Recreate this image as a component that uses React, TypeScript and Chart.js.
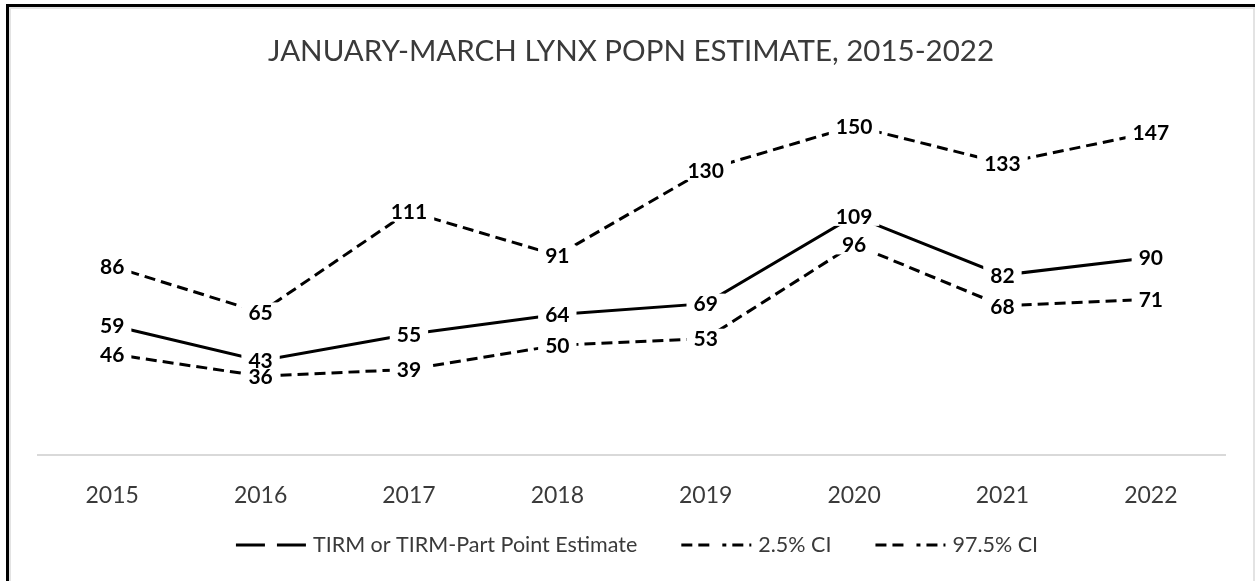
import React, { useEffect, useRef } from "react";
import { Chart, registerables } from "chart.js";

Chart.register(...registerables);

const years = ["2015", "2016", "2017", "2018", "2019", "2020", "2021", "2022"];
const pointEstimate = [59, 43, 55, 64, 69, 109, 82, 90];
const lowerCI = [46, 36, 39, 50, 53, 96, 68, 71];
const upperCI = [86, 65, 111, 91, 130, 150, 133, 147];
const seriesNames = ["TIRM or TIRM-Part Point Estimate", "2.5% CI", "97.5% CI"];
const titleText = "JANUARY-MARCH LYNX POPN ESTIMATE, 2015-2022";
const yMin = 0;
const yMax = 160;

const FONT = "Lato, 'Open Sans', sans-serif";
const DASH = [11, 6];

const labelPlugin = {
  id: "boxLabels",
  afterDatasetsDraw(chart: any) {
    const ctx = chart.ctx;
    ctx.save();
    ctx.font = `bold 21px ${FONT}`;
    const items: any[] = [];
    chart.data.datasets.forEach((ds: any, di: number) => {
      const meta = chart.getDatasetMeta(di);
      meta.data.forEach((pt: any, i: number) => {
        const text = String(ds.data[i]);
        const w = ctx.measureText(text).width;
        items.push({ x: pt.x, y: pt.y, text, w });
      });
    });
    ctx.fillStyle = "#ffffff";
    items.forEach((it) => ctx.fillRect(it.x - it.w / 2 - 7, it.y - 10, it.w + 14, 20));
    ctx.fillStyle = "#000000";
    ctx.textAlign = "center";
    ctx.textBaseline = "middle";
    items.forEach((it) => ctx.fillText(it.text, it.x, it.y + 1));
    ctx.restore();
  },
};

const titleLegendPlugin = {
  id: "titleLegend",
  afterDraw(chart: any) {
    const ctx = chart.ctx;
    ctx.save();
    // title
    ctx.font = `29.5px ${FONT}`;
    ctx.fillStyle = "#3a3a3a";
    ctx.textAlign = "center";
    ctx.textBaseline = "middle";
    ctx.fillText(titleText, 631, 51);

    // legend
    ctx.font = `21.5px ${FONT}`;
    const sampleW = 70;
    const textGap = 7;
    const itemGap = 44;
    const widths = seriesNames.map((n) => ctx.measureText(n).width);
    const total = widths.reduce((a, w) => a + sampleW + textGap + w, 0) + itemGap * (seriesNames.length - 1);
    let x = 637 - total / 2;
    const y = 545;
    chart.data.datasets.forEach((ds: any, i: number) => {
      ctx.save();
      ctx.strokeStyle = "#000";
      ctx.lineWidth = 3;
      ctx.setLineDash(ds.borderDash || []);
      ctx.beginPath();
      ctx.moveTo(x, y);
      ctx.lineTo(x + sampleW, y);
      ctx.stroke();
      ctx.fillStyle = "#fff";
      ctx.fillRect(x + sampleW / 2 - 6, y - 4, 12, 8);
      ctx.restore();
      ctx.fillStyle = "#3a3a3a";
      ctx.textAlign = "left";
      ctx.textBaseline = "middle";
      ctx.fillText(seriesNames[i], x + sampleW + textGap, y);
      x += sampleW + textGap + widths[i] + itemGap;
    });
    ctx.restore();
  },
};

export default function App() {
  const ref = useRef<HTMLCanvasElement | null>(null);
  useEffect(() => {
    if (!ref.current) return;
    const chart = new Chart(ref.current, {
      type: "line",
      data: {
        labels: years,
        datasets: [
          { label: seriesNames[0], data: pointEstimate, borderColor: "#000", borderWidth: 3, pointRadius: 0, borderDash: [] },
          { label: seriesNames[1], data: lowerCI, borderColor: "#000", borderWidth: 3, pointRadius: 0, borderDash: DASH },
          { label: seriesNames[2], data: upperCI, borderColor: "#000", borderWidth: 3, pointRadius: 0, borderDash: DASH },
        ],
      },
      options: {
        responsive: false,
        animation: false,
        layout: { padding: { left: 38, right: 30, top: 104, bottom: 0 } },
        plugins: { legend: { display: false }, title: { display: false }, tooltip: { enabled: false } },
        scales: {
          x: {
            offset: true,
            grid: { display: false },
            border: { display: true, color: "#d9d9d9", width: 2 },
            ticks: { color: "#3a3a3a", font: { family: FONT, size: 23 }, padding: 19, maxRotation: 0 },
            afterFit: (s: any) => { s.height = 126; },
          },
          y: { display: false, min: yMin, max: yMax },
        },
      },
      plugins: [labelPlugin, titleLegendPlugin],
    });
    return () => chart.destroy();
  }, []);

  return (
    <div style={{ position: "fixed", left: 0, top: 0, width: 1255, height: 581, overflow: "hidden", background: "#fff" }}>
      <div style={{ position: "absolute", left: 6, top: 4, width: 1400, height: 700, borderLeft: "3px solid #000", borderTop: "3px solid #000" }} />
      <div style={{ position: "absolute", left: 9, top: 7, width: 1242, height: 700, borderLeft: "2px solid #e3e3e3", borderTop: "2px solid #e3e3e3", borderRight: "2px solid #e3e3e3" }} />
      <canvas ref={ref} width={1255} height={581} style={{ position: "absolute", left: 0, top: 0 }} />
    </div>
  );
}
